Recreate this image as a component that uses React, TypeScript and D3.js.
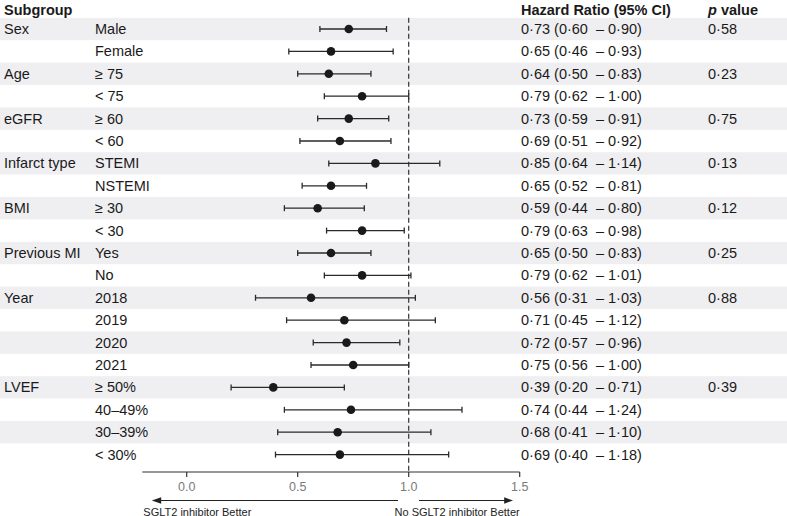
import React from "react";
import * as d3 from "d3";

const groups = ["Sex", "", "Age", "", "eGFR", "", "Infarct type", "", "BMI", "", "Previous MI", "", "Year", "", "", "", "LVEF", "", "", ""];
const subgroups = ["Male", "Female", "≥ 75", "< 75", "≥ 60", "< 60", "STEMI", "NSTEMI", "≥ 30", "< 30", "Yes", "No", "2018", "2019", "2020", "2021", "≥ 50%", "40–49%", "30–39%", "< 30%"];
const hr = [0.73, 0.65, 0.64, 0.79, 0.73, 0.69, 0.85, 0.65, 0.59, 0.79, 0.65, 0.79, 0.56, 0.71, 0.72, 0.75, 0.39, 0.74, 0.68, 0.69];
const lo = [0.60, 0.46, 0.50, 0.62, 0.59, 0.51, 0.64, 0.52, 0.44, 0.63, 0.50, 0.62, 0.31, 0.45, 0.57, 0.56, 0.20, 0.44, 0.41, 0.40];
const hi = [0.90, 0.93, 0.83, 1.00, 0.91, 0.92, 1.14, 0.81, 0.80, 0.98, 0.83, 1.01, 1.03, 1.12, 0.96, 1.00, 0.71, 1.24, 1.10, 1.18];
const pvals = ["0.58", "", "0.23", "", "0.75", "", "0.13", "", "0.12", "", "0.25", "", "0.88", "", "", "", "0.39", "", "", ""];
const tickValues = [0, 0.5, 1.0, 1.5];

const W = 787;
const H = 516;
const FONT = "'Liberation Sans', Arial, Helvetica, sans-serif";
const fmt = d3.format(".2f");
const dot = (s: string) => s.replace(/\./g, "·");

export default function App() {
  const x = d3.scaleLinear().domain([-0.2, 1.5]).range([142.3, 519.7]);
  const rowH = 22.4;
  const y0 = 29;
  const yRow = (i: number) => y0 + i * rowH;
  const axisY = 472;
  const arrowY = 500.5;
  const n = hr.length;

  return (
    <svg width={W} height={H} style={{ position: "absolute", left: 0, top: 0 }} fontFamily={FONT}>
      <rect x={0} y={0} width={W} height={H} fill="#fff" />
      {/* bands */}
      {hr.map((_, i) =>
        i % 2 === 0 ? (
          <rect key={"b" + i} x={0} y={yRow(i) - rowH / 2} width={W} height={rowH} fill="#efeff2" />
        ) : null
      )}
      {/* headers */}
      <g fontWeight="bold" fontSize={14.5} fill="#1a1a1a" dominantBaseline="central">
        <text x={4} y={9.5}>Subgroup</text>
        <text x={521} y={9.5}>Hazard Ratio (95% CI)</text>
        <text x={708} y={9.5}>
          <tspan fontStyle="italic">p</tspan> value
        </text>
      </g>
      {/* dashed reference */}
      <line x1={x(1)} x2={x(1)} y1={yRow(0) - rowH / 2} y2={axisY + 1} stroke="#333" strokeWidth={1.2} strokeDasharray="5,3" />
      {/* rows */}
      {hr.map((v, i) => {
        const cy = yRow(i);
        return (
          <g key={"r" + i}>
            <text x={4} y={cy} fontSize={14.5} fill="#1a1a1a" dominantBaseline="central">{groups[i]}</text>
            <text x={95} y={cy} fontSize={14.5} fill="#1a1a1a" dominantBaseline="central">{subgroups[i]}</text>
            <line x1={x(lo[i])} x2={x(hi[i])} y1={cy} y2={cy} stroke="#2a2a2a" strokeWidth={1.3} />
            <line x1={x(lo[i])} x2={x(lo[i])} y1={cy - 3} y2={cy + 3} stroke="#2a2a2a" strokeWidth={1.3} />
            <line x1={x(hi[i])} x2={x(hi[i])} y1={cy - 3} y2={cy + 3} stroke="#2a2a2a" strokeWidth={1.3} />
            <circle cx={x(v)} cy={cy} r={4.3} fill="#1a1a1a" />
            <text x={521} y={cy} fontSize={14.5} fill="#1a1a1a" dominantBaseline="central" style={{ whiteSpace: "pre" }}>
              {dot(`${fmt(v)} (${fmt(lo[i])}  – ${fmt(hi[i])})`)}
            </text>
            <text x={708} y={cy} fontSize={14.5} fill="#1a1a1a" dominantBaseline="central">{dot(pvals[i])}</text>
          </g>
        );
      })}
      {/* axis */}
      <line x1={x(-0.2)} x2={x(1.5)} y1={axisY} y2={axisY} stroke="#333" strokeWidth={1.2} />
      {tickValues.map((t) => (
        <g key={"t" + t}>
          <line x1={x(t)} x2={x(t)} y1={axisY} y2={axisY + 5} stroke="#333" strokeWidth={1.2} />
          <text x={x(t)} y={487} fontSize={12.5} fill="#7a7a7a" textAnchor="middle" dominantBaseline="central">
            {d3.format(".1f")(t)}
          </text>
        </g>
      ))}
      {/* arrows */}
      <line x1={x(0.952)} x2={x(-0.12)} y1={arrowY} y2={arrowY} stroke="#222" strokeWidth={1.2} />
      <path d={`M${x(-0.157)},${arrowY} L${x(-0.115)},${arrowY - 3.2} L${x(-0.115)},${arrowY + 3.2} Z`} fill="#222" />
      <line x1={x(1.0465)} x2={x(1.44)} y1={arrowY} y2={arrowY} stroke="#222" strokeWidth={1.2} />
      <path d={`M${x(1.47)},${arrowY} L${x(1.43)},${arrowY - 3.2} L${x(1.43)},${arrowY + 3.2} Z`} fill="#222" />
      <text x={x(-0.2) + 1} y={511.5} fontSize={11} fill="#222" dominantBaseline="central">SGLT2 inhibitor Better</text>
      <text x={x(1.5)} y={511.5} fontSize={11} fill="#222" textAnchor="end" dominantBaseline="central">No SGLT2 inhibitor Better</text>
    </svg>
  );
}
